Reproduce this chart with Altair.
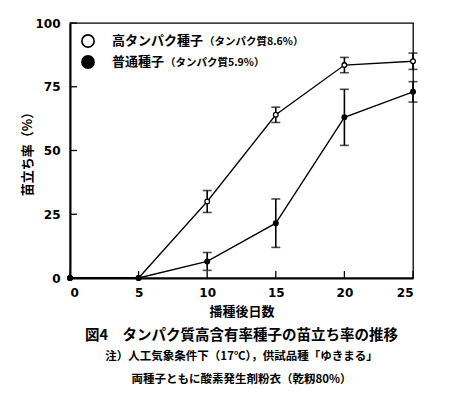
import altair as alt
import pandas as pd

days = [0, 5, 10, 15, 20, 25]
high_mean = [0, 0, 30, 64, 83.5, 85]
high_err = [0, 0, 4.3, 3, 3, 3.2]
normal_mean = [0, 0, 6.5, 21.5, 63, 73]
normal_err = [0, 0, 3.5, 9.5, 11, 4]
series_names = ["高タンパク種子", "普通種子"]
series_notes = ["（タンパク質8.6%）", "（タンパク質5.9%）"]
y_ticks = [0, 25, 50, 75, 100]
x_ticks = [0, 5, 10, 15, 20, 25]
captions = ["図4　タンパク質高含有率種子の苗立ち率の推移",
            "注）人工気象条件下（17℃），供試品種「ゆきまる」",
            "両種子ともに酸素発生剤粉衣（乾籾80%）"]

rows = []
for d, m, e in zip(days, high_mean, high_err):
    rows.append({"day": d, "val": m, "lo": m - e, "hi": m + e, "s": series_names[0], "hasErr": e > 0})
for d, m, e in zip(days, normal_mean, normal_err):
    rows.append({"day": d, "val": m, "lo": m - e, "hi": m + e, "s": series_names[1], "hasErr": e > 0})
df = pd.DataFrame(rows)
err_df = df[df["hasErr"]]

W, H = 343, 255
JP = "Noto Sans CJK JP"
NUM = "DejaVu Sans"

xs = alt.Scale(domain=[0, 25], nice=False)
ys = alt.Scale(domain=[0, 100], nice=False)
xaxis = alt.Axis(values=x_ticks, title="播種後日数", ticks=False, labelPadding=9, titlePadding=7)
yaxis = alt.Axis(values=y_ticks, title="苗立ち率（%）", ticks=False, labelPadding=10, titlePadding=0)
fill_scale = alt.Scale(domain=series_names, range=["white", "black"])

base = alt.Chart(df)
lines = base.mark_line(color="black", strokeWidth=1.3).encode(
    x=alt.X("day:Q", scale=xs, axis=xaxis),
    y=alt.Y("val:Q", scale=ys, axis=yaxis),
    detail="s:N",
)
ebase = alt.Chart(err_df)
erule = ebase.mark_rule(color="black", strokeWidth=1.6).encode(x="day:Q", y="lo:Q", y2="hi:Q")
etop = ebase.mark_tick(color="black", orient="horizontal", size=9, thickness=1.6).encode(x="day:Q", y="hi:Q")
ebot = ebase.mark_tick(color="black", orient="horizontal", size=9, thickness=1.6).encode(x="day:Q", y="lo:Q")
pts = base.mark_point(shape="circle", size=22, stroke="black", strokeWidth=1.3, opacity=1).encode(
    x="day:Q", y="val:Q",
    fill=alt.Fill("s:N", scale=fill_scale, legend=None),
)

yt = alt.Chart(pd.DataFrame({"v": y_ticks})).mark_rule(color="black", strokeWidth=1.3).encode(
    y="v:Q", x=alt.value(0), x2=alt.value(7))
xt = alt.Chart(pd.DataFrame({"v": x_ticks})).mark_rule(color="black", strokeWidth=1.3).encode(
    x="v:Q", y=alt.value(H), y2=alt.value(H - 7))

leg_df = pd.DataFrame({"name": series_names, "note": series_notes})
leg_layers = []
row_y = [18, 39]
name_x = 42
note_x = [134, 95]
for i in range(2):
    sub = alt.Chart(leg_df.iloc[[i]])
    leg_layers.append(sub.mark_point(shape="circle", size=150, stroke="black", strokeWidth=1.6, opacity=1).encode(
        x=alt.value(18), y=alt.value(row_y[i]),
        fill=alt.Fill("name:N", scale=fill_scale, legend=None)))
    leg_layers.append(sub.mark_text(align="left", baseline="middle", font=JP, fontSize=13, fontWeight="bold", color="black").encode(
        x=alt.value(name_x), y=alt.value(row_y[i]), text="name:N"))
    leg_layers.append(sub.mark_text(align="left", baseline="middle", font=JP, fontSize=10.5, fontWeight="bold", color="black").encode(
        x=alt.value(note_x[i]), y=alt.value(row_y[i] + 1), text="note:N"))

cap_df = pd.DataFrame({"t": captions})
cap_y = [313, 334, 357]
cap_size = [14.5, 11.5, 11.5]
cap_layers = []
for i in range(3):
    cap_layers.append(alt.Chart(cap_df.iloc[[i]]).mark_text(font=JP, fontSize=cap_size[i], fontWeight="bold", color="black", baseline="middle").encode(
        x=alt.value(W / 2), y=alt.value(cap_y[i]), text="t:N"))

chart = alt.layer(
    lines, erule, etop, ebot, pts, yt, xt, *leg_layers, *cap_layers
).properties(
    width=W, height=H,
    autosize=alt.AutoSizeParams(type="none"),
    padding={"left": 62, "top": 15, "right": 30, "bottom": 108},
    background="white",
).configure_view(stroke="black", strokeWidth=1.3).configure_axis(
    grid=False, domainColor="black", domainWidth=2,
    labelFont=NUM, labelFontSize=12, labelColor="black", labelFontWeight="bold",
    titleFont=JP, titleFontSize=13, titleColor="black", titleFontWeight="bold",
)

chart.save("out.html", embed_options={"renderer": "svg", "actions": False})
